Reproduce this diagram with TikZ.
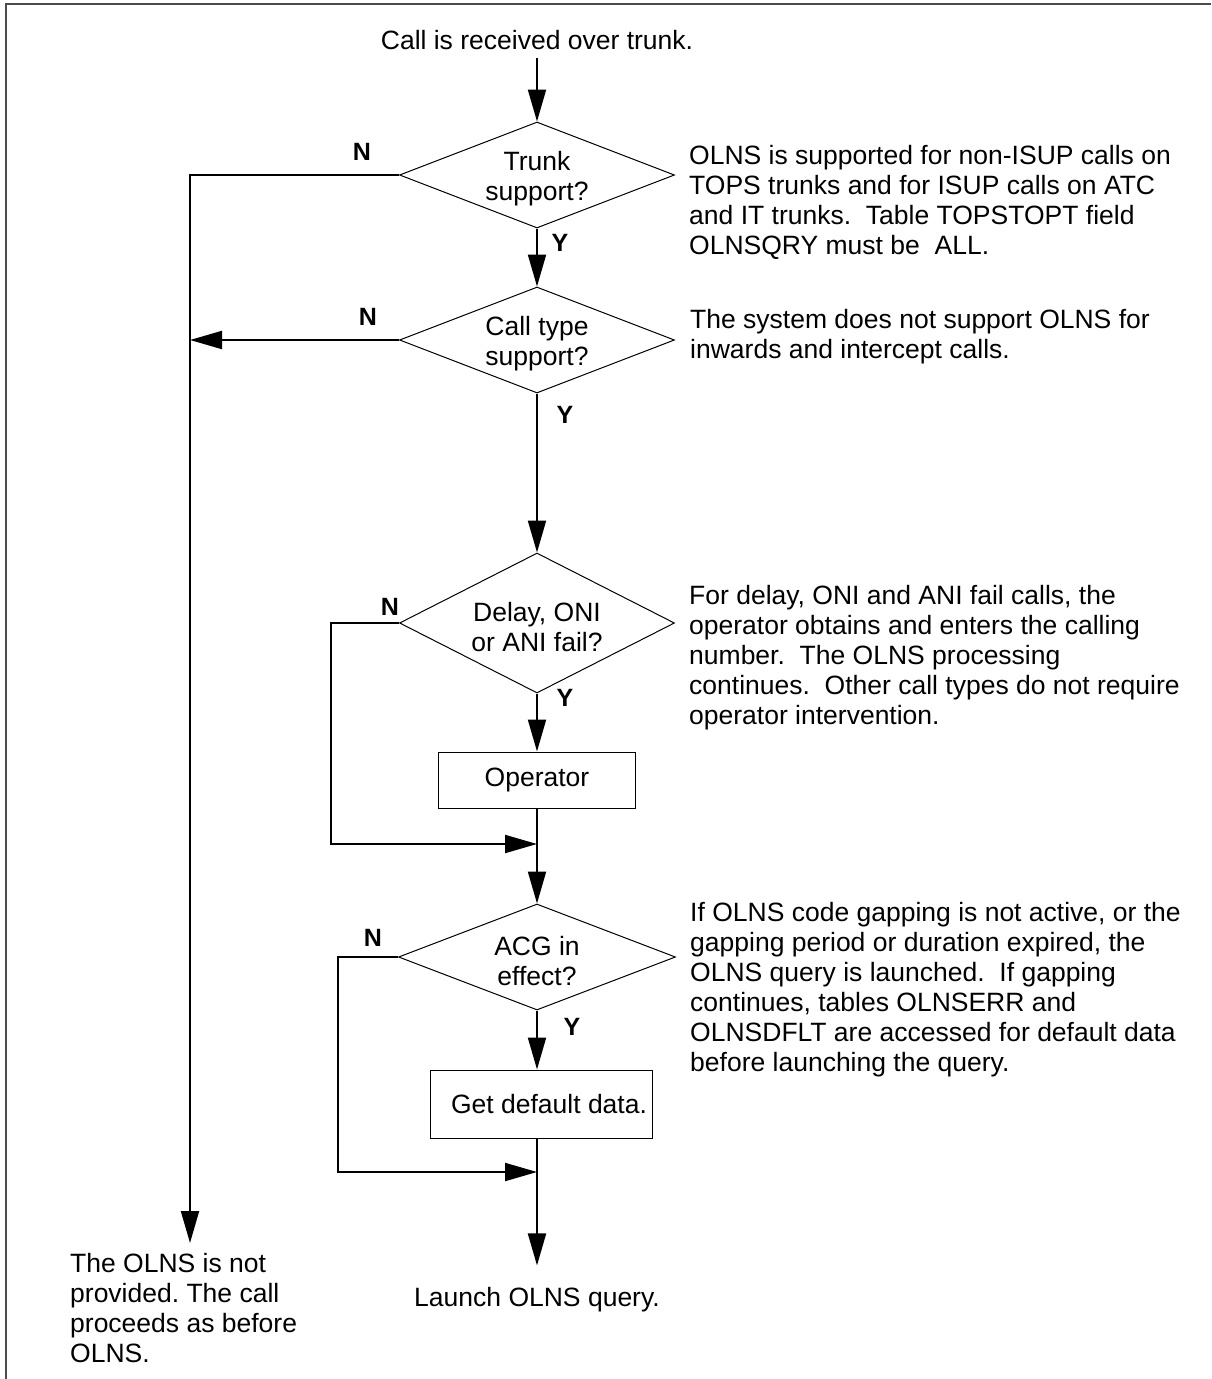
\documentclass[tikz,border=0pt]{standalone}
\usepackage{fontspec}
\setmainfont{Liberation Sans}
\usetikzlibrary{arrows.meta,shapes.geometric}
\begin{document}
\begin{tikzpicture}[x=1pt,y=-1pt,
  txt/.style={font=\fontsize{26.5}{30}\selectfont\frenchspacing, inner sep=0pt, align=center},
  note/.style={font=\fontsize{26.5}{30}\selectfont\frenchspacing, inner sep=0pt, align=left, anchor=west},
  yn/.style={font=\fontsize{25}{28}\selectfont\bfseries, inner sep=0pt},
  decision/.style={draw, line width=1pt, shape=diamond, inner sep=0pt, minimum width=275pt, minimum height=#1},
  procbox/.style={draw, line width=1pt, inner sep=0pt, font=\fontsize{26.5}{30}\selectfont},
  conn/.style={line width=2pt},
  flow/.style={-{Triangle[length=32pt,width=18pt]}}
]
\useasboundingbox (0,0) rectangle (1211,1379);
\draw[line width=1.3pt, black!70] (6,1379) -- (6,4) -- (1211,4);

% main column
\node[txt] (start) at (537,40) {Call is received over trunk.};
\node[decision=106pt] (d1) at (537,175) {};
\node[txt] (d1t) at (537,179) {Trunk\\support?};
\node[decision=106pt] (d2) at (537,340) {};
\node[txt] (d2t) at (537,344) {Call type\\support?};
\node[decision=140pt] (d3) at (537,623) {};
\node[txt] (d3t) at (537,627) {Delay, ONI\\or ANI fail?};
\node[procbox, minimum width=197pt, minimum height=56pt] (op) at (537,780) {Operator};
\coordinate (j1) at (537,844);
\node[decision=106pt, minimum width=277pt] (d4) at (537,957) {};
\node[txt] (d4t) at (537,961) {ACG in\\effect?};
\node[procbox, minimum width=222pt, minimum height=68pt] (gd) at (541,1104) {\hspace*{16pt}Get default data.};
\coordinate (j2) at (537,1172);
\node[txt] (launch) at (537,1300) {Launch OLNS query.};

% left column
\coordinate (lc) at (190,175);
\coordinate (lend) at (190,1243);
\node[note, anchor=north west] (np) at (70,1253) {The OLNS is not\\provided. The call\\proceeds as before\\OLNS.};

% Y / N labels
\node[yn] (n1) at (362,152) {N};
\node[yn] (y1) at (560,243) {Y};
\node[yn] (n2) at (368,317) {N};
\node[yn] (y2) at (565,415) {Y};
\node[yn] (n3) at (390,607) {N};
\node[yn] (y3) at (565,698) {Y};
\node[yn] (n4) at (373,938) {N};
\node[yn] (y4) at (572,1027) {Y};

% notes
\node[note] (c1) at (689,202) {OLNS is supported for non-ISUP calls on\\TOPS trunks and for ISUP calls on ATC\\and IT trunks.\ \ Table TOPSTOPT field\\OLNSQRY must be\ \ ALL.};
\node[note] (c2) at (690,337) {The system does not support OLNS for\\inwards and intercept calls.};
\node[note] (c3) at (689,658) {For delay, ONI and ANI fail calls, the\\operator obtains and enters the calling\\number.\ \ The OLNS processing\\continues.\ \ Other call types do not require\\operator intervention.};
\node[note] (c4) at (690,990) {If OLNS code gapping is not active, or the\\gapping period or duration expired, the\\OLNS query is launched.\ \ If gapping\\continues, tables OLNSERR and\\OLNSDFLT are accessed for default data\\before launching the query.};

% connectors
\draw[conn,flow] (start.south) ++(0,8) -- (d1.north);
\draw[conn,flow] (d1.south) -- (d2.north);
\draw[conn,flow] (d2.south) -- (d3.north);
\draw[conn,flow] (d3.south) -- (op.north);
\draw[conn] (op.south) -- (j1);
\draw[conn,flow] (j1) -- (d4.north);
\draw[conn,flow] (d4.south) -- (d4.south |- gd.north);
\draw[conn] (gd.south -| j2) -- (j2);
\draw[conn,flow] (j2) -- (launch.north) [shorten >=22pt];
\draw[conn,flow] (d1.west) -- (lc) -- (lend);
\draw[conn,flow] (d2.west) -- (d2.west -| lc);
\draw[conn,flow] (d3.west) -- ++(-68,0) |- (j1);
\draw[conn,flow] (d4.west) -- ++(-60,0) |- (j2);
\end{tikzpicture}
\end{document}
